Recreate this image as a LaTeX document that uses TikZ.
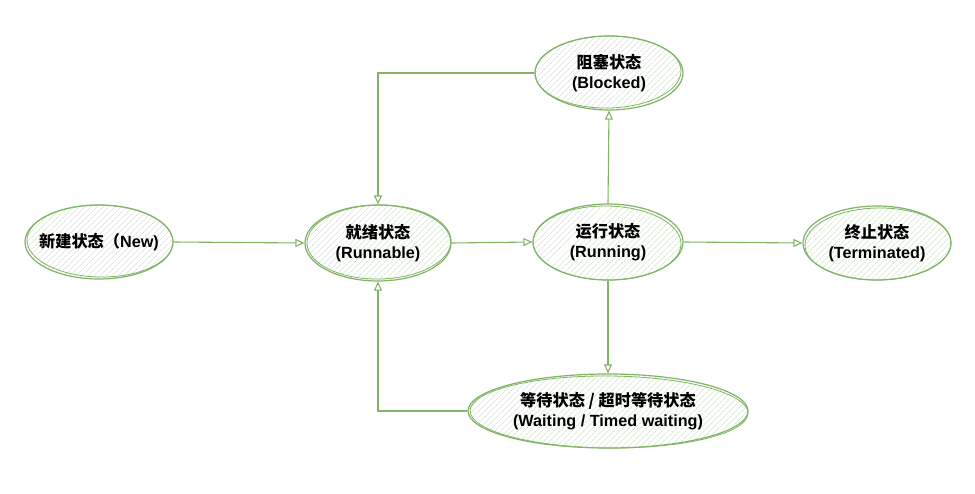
\documentclass[tikz,border=0pt]{standalone}
\usepackage{fontspec}
\setmainfont{Liberation Sans}
\newfontfamily\cjk{Noto Sans CJK SC}
\usetikzlibrary{shapes.geometric,arrows.meta,patterns.meta,calc}
\definecolor{gr}{HTML}{82B366}
\definecolor{hatch}{HTML}{C6DBBE}
\begin{document}
\begin{tikzpicture}[x=1pt,y=-1pt,
  st/.style={ellipse,draw=gr,line width=1.2pt,inner sep=0pt,
    pattern={Lines[angle=45,distance=4pt,line width=0.6pt]},pattern color=hatch},
  skt/.style={draw=gr,line width=0.8pt},
  lbl/.style={align=center,font=\fontsize{16.2}{20}\selectfont\bfseries,text=black,inner sep=0pt},
  arr/.style={draw=gr,line width=1.1pt,-{Triangle[open,length=9pt,width=8pt]}}]
\useasboundingbox (0,0) rectangle (975,493);
% states
\node[st,minimum width=148pt,minimum height=74pt] (new) at (99,242) {};
\node[st,minimum width=146pt,minimum height=76pt] (run) at (378,243) {};
\node[st,minimum width=150pt,minimum height=76pt] (ing) at (608,242) {};
\node[st,minimum width=148pt,minimum height=74pt] (term) at (877,243) {};
\node[st,minimum width=148pt,minimum height=74pt] (blk) at (609,73) {};
\node[st,minimum width=280pt,minimum height=74pt] (wait) at (608,411) {};
% sketch strokes
\draw[skt] ($(new)+(1,-1)$) ellipse [x radius=73pt,y radius=36pt,rotate=-1];
\draw[skt] ($(run)+(1,-1)$) ellipse [x radius=72pt,y radius=37pt,rotate=1];
\draw[skt] ($(ing)+(-1,1)$) ellipse [x radius=74pt,y radius=37pt,rotate=-1];
\draw[skt] ($(term)+(1,1)$) ellipse [x radius=73pt,y radius=36pt,rotate=1];
\draw[skt] ($(blk)+(-1,-1)$) ellipse [x radius=73pt,y radius=36pt,rotate=1];
\draw[skt] ($(wait)+(1,1)$) ellipse [x radius=139pt,y radius=36pt,rotate=-0.5];
% labels
\node[lbl] (newt) at (new) {{\cjk 新建状态（}New)};
\node[lbl] (runt) at (run) {{\cjk 就绪状态}\\(Runnable)};
\node[lbl] (ingt) at (ing) {{\cjk 运行状态}\\(Running)};
\node[lbl] (termt) at (term) {{\cjk 终止状态}\\(Terminated)};
\node[lbl] (blkt) at (blk) {{\cjk 阻塞状态}\\(Blocked)};
\node[lbl] (waitt) at (wait) {{\cjk 等待状态 / 超时等待状态}\\(Waiting / Timed waiting)};
% transitions
\draw[arr] (new.east) -- (run.west);
\draw[arr] (run.east) -- (ing.west);
\draw[arr] (ing.east) -- (term.west);
\draw[arr] (ing.north) -- (blk.south);
\draw[arr] (ing.south) -- (wait.north);
\draw[arr] (blk.west) -| (run.north);
\draw[arr] (wait.west) -| (run.south);
\end{tikzpicture}
\end{document}
